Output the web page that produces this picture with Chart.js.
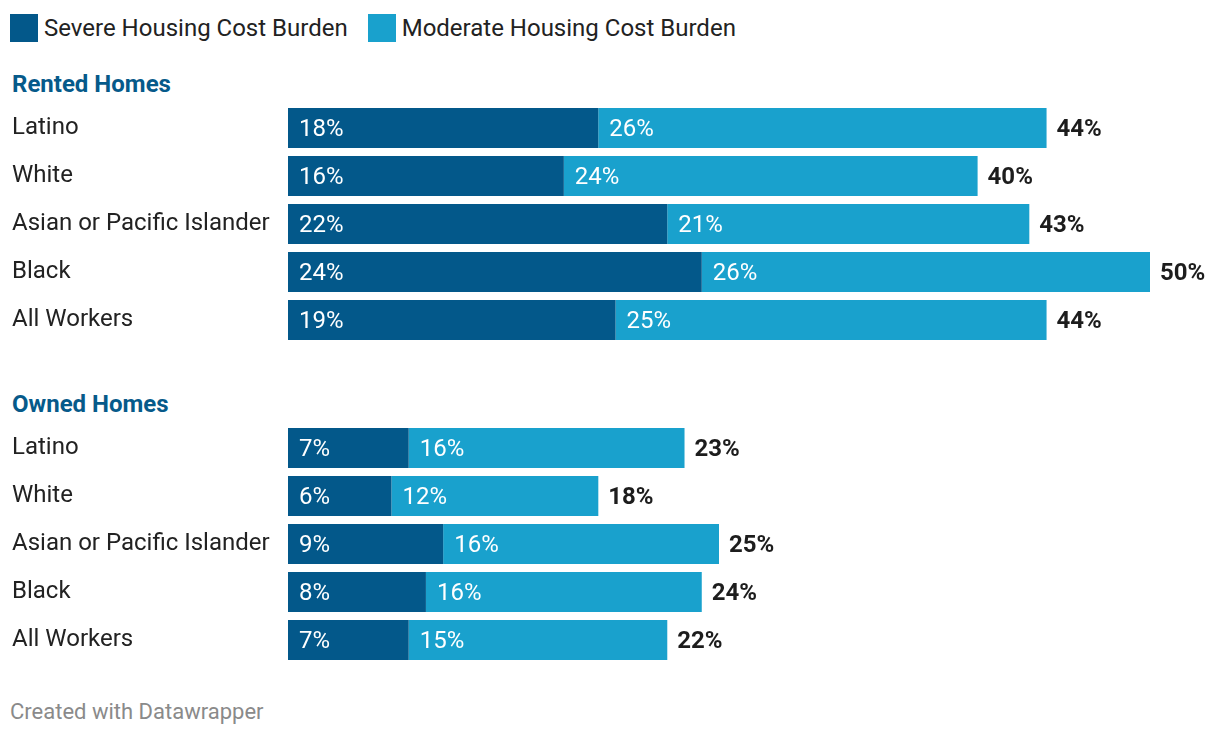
<!DOCTYPE html>
<html>
<head>
<meta charset="utf-8">
<script src="https://cdn.jsdelivr.net/npm/chart.js@4"></script>
<style>
body { margin: 0; background: #fff; font-family: Roboto, sans-serif; width: 1220px; height: 736px; position: relative; overflow: hidden; }
.legend { position: absolute; left: 10px; top: 14px; font-size: 24px; line-height: 28px; color: #222; display: flex; align-items: center; }
.legend .sw { width: 28px; height: 28px; display: inline-block; margin-right: 6px; }
.legend .item { display: flex; align-items: center; margin-right: 20px; }
.head { position: absolute; left: 12px; font-size: 24px; line-height: 28px; font-weight: bold; color: #065a8a; }
.chartbox { position: absolute; left: 0; width: 1220px; height: 240px; }
.foot { position: absolute; left: 10px; top: 699px; font-size: 22px; line-height: 26px; color: #8a8a8a; }
</style>
</head>
<body>

<div class="legend">
  <span class="item"><span class="sw" style="background:#03588a"></span>Severe Housing Cost Burden</span>
  <span class="item"><span class="sw" style="background:#19a1cd"></span>Moderate Housing Cost Burden</span>
</div>

<div class="head" style="top:70px">Rented Homes</div>
<div class="chartbox" style="top:104px"><canvas id="rented" width="1220" height="240"></canvas></div>

<div class="head" style="top:390px">Owned Homes</div>
<div class="chartbox" style="top:424px"><canvas id="owned" width="1220" height="240"></canvas></div>

<div class="foot">Created with Datawrapper</div>

<script>
var groups = ['Latino', 'White', 'Asian or Pacific Islander', 'Black', 'All Workers'];

var rented_severe = [18, 16, 22, 24, 19];
var rented_moderate = [26, 24, 21, 26, 25];
var rented_total = [44, 40, 43, 50, 44];

var owned_severe = [7, 6, 9, 8, 7];
var owned_moderate = [16, 12, 16, 16, 15];
var owned_total = [23, 18, 25, 24, 22];

var darkBlue = '#03588a';
var lightBlue = '#19a1cd';

// writes the % inside each bar piece and the bold total after the bar
var barLabels = {
	id: 'barLabels',
	afterDatasetsDraw: function(chart) {
		var ctx = chart.ctx;
		var totals = chart.options.plugins.barLabels.totals;
		ctx.save();
		ctx.textBaseline = 'middle';
		ctx.textAlign = 'left';
		chart.data.datasets.forEach(function(ds, di) {
			var meta = chart.getDatasetMeta(di);
			meta.data.forEach(function(bar, i) {
				ctx.font = '24px Roboto';
				ctx.fillStyle = '#fff';
				ctx.fillText(ds.data[i] + '%', bar.base + 11, bar.y + 2);
				if (di == chart.data.datasets.length - 1) {
					ctx.font = 'bold 24px Roboto';
					ctx.fillStyle = '#1d1d1d';
					ctx.fillText(totals[i] + '%', bar.x + 10, bar.y + 2);
				}
			});
		});
		ctx.restore();
	}
};

function makeChart(id, severe, moderate, totals) {
	return new Chart(document.getElementById(id), {
		type: 'bar',
		data: {
			labels: groups,
			datasets: [{
				label: 'Severe Housing Cost Burden',
				data: severe,
				backgroundColor: darkBlue
			}, {
				label: 'Moderate Housing Cost Burden',
				data: moderate,
				backgroundColor: lightBlue
			}]
		},
		options: {
			indexAxis: 'y',
			responsive: false,
			animation: false,
			layout: { padding: { left: 12, right: 70, top: 0, bottom: 0 } },
			datasets: { bar: { categoryPercentage: 1, barPercentage: 40 / 48, borderWidth: 0 } },
			scales: {
				x: { stacked: true, min: 0, max: 50, display: false },
				y: {
					stacked: true,
					grid: { display: false },
					border: { display: false },
					ticks: {
						crossAlign: 'far',
						color: '#222',
						font: { family: 'Roboto', size: 24 },
						padding: 0
					},
					afterFit: function(scale) {
						scale.width = 276;
						scale.paddingTop = 0;
						scale.paddingBottom = 0;
					}
				}
			},
			plugins: {
				legend: { display: false },
				tooltip: { enabled: false },
				barLabels: { totals: totals }
			}
		},
		plugins: [barLabels]
	});
}

makeChart('rented', rented_severe, rented_moderate, rented_total);
makeChart('owned', owned_severe, owned_moderate, owned_total);
</script>
</body>
</html>
